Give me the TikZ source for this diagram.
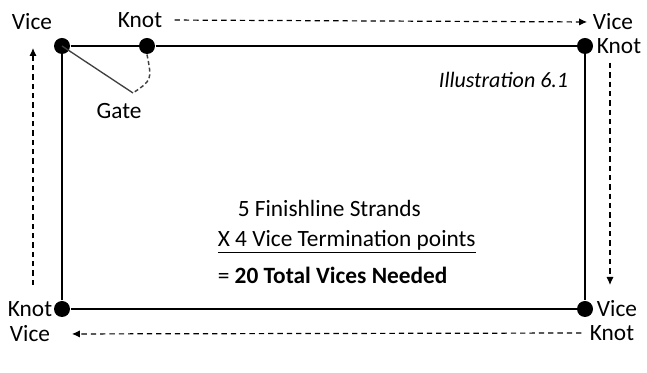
\documentclass[tikz,border=0pt]{standalone}
\usepackage{fontspec}
\setmainfont{Carlito}
\usetikzlibrary{arrows.meta}

\tikzset{every picture/.style={line width=0.75pt}}
\tikzset{
  dot/.style={circle,fill=black,inner sep=0pt,minimum size=12pt},
  lbl/.style={inner sep=1pt,font=\fontsize{17.5}{21}\selectfont},
  flow/.style={dashed,line width=0.9pt,dash pattern=on 4pt off 3pt,-{Latex[length=6pt,width=5.5pt]}}
}

\begin{document}
\begin{tikzpicture}[x=0.75pt,y=0.75pt,yscale=-1,xscale=1]
\useasboundingbox (0,0) rectangle (647,373);

% corner dots and the knot
\node [dot] (tl) at (62,46) {};
\node [dot] (tr) at (585,46) {};
\node [dot] (br) at (585,309) {};
\node [dot] (bl) at (62,309) {};
\node [dot] (kn) at (147,46) {};
\coordinate (gt) at (133,93);

% frame
\draw [line width=1.3pt] (tl) -- (kn) -- (tr) -- (br) -- (bl) -- (tl);
\draw [line width=1pt,black!75] (tl.center) -- (gt);
\draw [dashed,line width=1.1pt,black!75,dash pattern=on 3pt off 2pt] (kn.south) .. controls (152,80) .. (gt);

% labels
\draw (32,22) node [lbl] (vtl) {Vice};
\draw (140,20) node [lbl] (ktop) {Knot};
\draw (613,22) node [lbl] (vtr) {Vice};
\draw (619,46) node [lbl] (ktr) {Knot};
\draw (617,309) node [lbl] (vbr) {Vice};
\draw (612,333) node [lbl] (kbr) {Knot};
\draw (30,309) node [lbl] (kbl) {Knot};
\draw (30,334) node [lbl] (vbl) {Vice};
\draw (119,111) node [lbl] (gate) {Gate};
\draw (570,80) node [lbl,anchor=east,font=\fontsize{16.5}{20}\selectfont] (ill) {\itshape Illustration 6.1};

% totals
\draw (236,208) node [lbl,anchor=west] (t1) {5 Finishline Strands};
\draw (216,242) node [lbl,anchor=west] (t2) {\underline{X 4 Vice Termination points}};
\draw (216,275) node [lbl,anchor=west] (t3) {= \textbf{20 Total Vices Needed}};

% direction arrows
\draw [flow,shorten <=8pt,shorten >=3pt] (ktop.east) -- (vtr.west);
\draw [flow] (610,63) -- (610,285);
\draw [flow,shorten <=5pt,shorten >=15pt] (kbr.west) -- (vbl.east);
\draw [flow] (33,285) -- (33,48);

\end{tikzpicture}
\end{document}
